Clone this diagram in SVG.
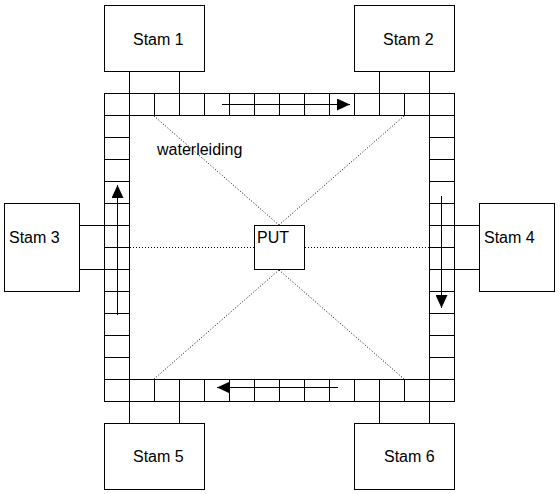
<svg xmlns="http://www.w3.org/2000/svg" width="560" height="494" viewBox="0 0 560 494">
<style>
.box{fill:#fff;stroke:#000;stroke-width:1}
.ln{stroke:#000;stroke-width:1;fill:none}
.dot{stroke:#000;stroke-width:1;stroke-dasharray:1 2;fill:none}
.arr{stroke:#000;stroke-width:1;fill:none;marker-end:url(#ah)}
text{font-family:"Liberation Sans",Arial,sans-serif;font-size:16px;fill:#000}
</style>
<defs>
<marker id="ah" markerUnits="userSpaceOnUse" markerWidth="13" markerHeight="12" refX="13" refY="6" orient="auto">
<path d="M0,0 L13,6 L0,12 Z" fill="#000"/>
</marker>
</defs>
<rect width="560" height="494" fill="#fff"/>
<g id="ring" shape-rendering="crispEdges">
<rect class="ln" x="104.5" y="93.5" width="350" height="308"/>
<rect class="ln" x="129.5" y="115.5" width="300" height="264"/>
<path class="ln" d="M129.5,93V115M154.5,93V115M179.5,93V115M204.5,93V115M229.5,93V115M254.5,93V115M279.5,93V115M304.5,93V115M329.5,93V115M354.5,93V115M379.5,93V115M404.5,93V115M429.5,93V115
M129.5,379V401M154.5,379V401M179.5,379V401M204.5,379V401M229.5,379V401M254.5,379V401M279.5,379V401M304.5,379V401M329.5,379V401M354.5,379V401M379.5,379V401M404.5,379V401M429.5,379V401
M104,115.5H129M104,137.5H129M104,159.5H129M104,181.5H129M104,203.5H129M104,225.5H129M104,247.5H129M104,269.5H129M104,291.5H129M104,313.5H129M104,335.5H129M104,357.5H129M104,379.5H129
M429,115.5H454M429,137.5H454M429,159.5H454M429,181.5H454M429,203.5H454M429,225.5H454M429,247.5H454M429,269.5H454M429,291.5H454M429,313.5H454M429,335.5H454M429,357.5H454M429,379.5H454"/>
</g>
<g id="label">
<text x="157" y="155">waterleiding</text>
</g>
<g id="stam1"><rect class="box" x="104.5" y="5.5" width="100" height="66" shape-rendering="crispEdges"/><text x="133" y="45">Stam 1</text></g>
<g id="stam2"><rect class="box" x="354.5" y="5.5" width="100" height="66" shape-rendering="crispEdges"/><text x="383" y="45">Stam 2</text></g>
<g id="stam3"><rect class="box" x="4.5" y="203.5" width="75" height="88" shape-rendering="crispEdges"/><text x="9" y="243">Stam 3</text></g>
<g id="stam4"><rect class="box" x="479.5" y="203.5" width="75" height="88" shape-rendering="crispEdges"/><text x="484" y="243">Stam 4</text></g>
<g id="stam5"><rect class="box" x="104.5" y="423.5" width="100" height="66" shape-rendering="crispEdges"/><text x="133" y="462">Stam 5</text></g>
<g id="stam6"><rect class="box" x="354.5" y="423.5" width="100" height="66" shape-rendering="crispEdges"/><text x="384" y="462">Stam 6</text></g>
<g id="put"><rect class="box" x="254.5" y="225.5" width="50" height="44" shape-rendering="crispEdges"/><text x="257" y="243">PUT</text></g>
<g id="connectors">
<path class="ln" shape-rendering="crispEdges" d="M129.5,71V93M179.5,71V93M379.5,71V93M429.5,71V93M129.5,401V423M179.5,401V423M379.5,401V423M429.5,401V423M79,225.5H104M79,269.5H104M454,225.5H479M454,269.5H479"/>
<path class="dot" d="M154,116L279,225M404,116L279,225M279,270L154,379M279,270L404,379M130,247.5H254M305,247.5H429"/>
<path class="arr" shape-rendering="crispEdges" d="M222,104.5H350"/>
<path class="arr" shape-rendering="crispEdges" d="M338,387.5H217"/>
<path class="arr" shape-rendering="crispEdges" d="M117.5,315V185"/>
<path class="arr" shape-rendering="crispEdges" d="M441.5,196V308"/>
</g>
</svg>
